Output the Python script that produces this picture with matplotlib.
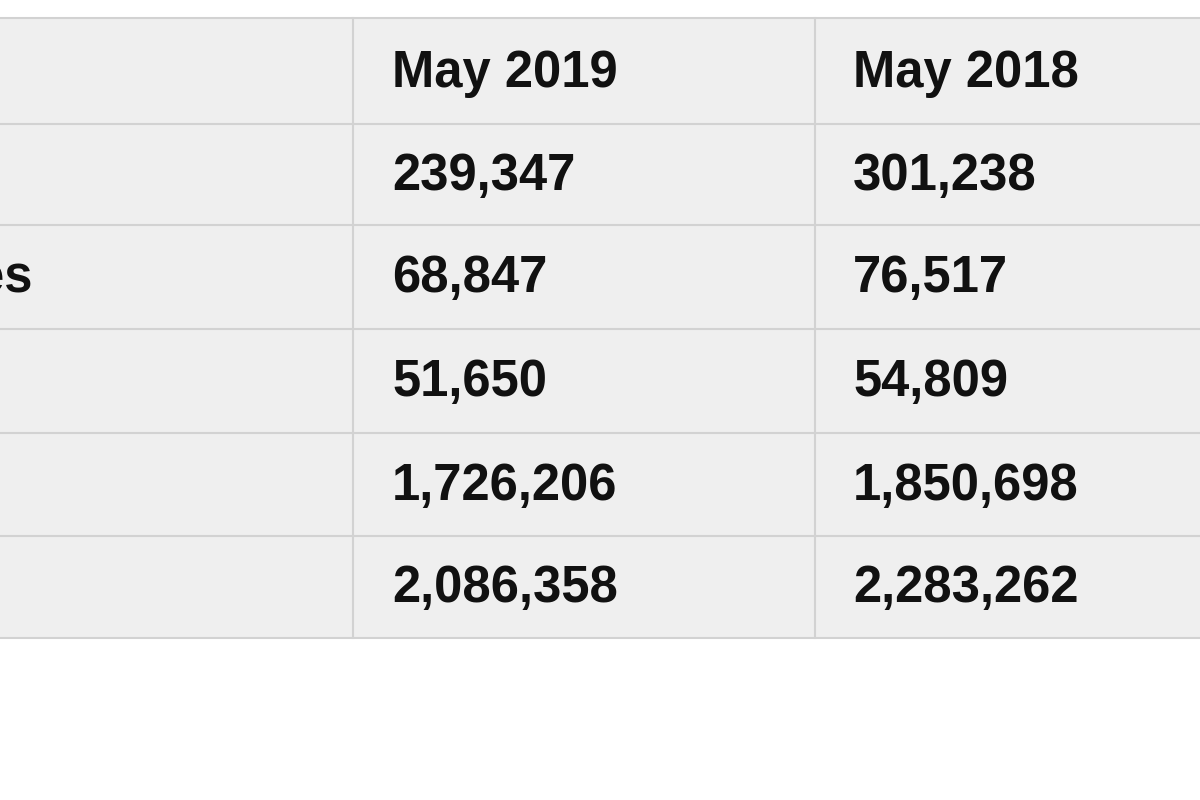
import matplotlib.pyplot as plt
from matplotlib.patches import Rectangle

# table content (the crop cuts off the left label column)
headers = ['', 'May 2019', 'May 2018']
row_labels = ['', 'es', '', '', '']
may_2019 = ['239,347', '68,847', '51,650', '1,726,206', '2,086,358']
may_2018 = ['301,238', '76,517', '54,809', '1,850,698', '2,283,262']

col_edges = [-50, 353, 815, 1260]
row_edges = [18, 124, 225, 329, 433, 536, 638]

fig = plt.figure(figsize=(12, 8), dpi=100)
ax = fig.add_axes([0, 0, 1, 1])
ax.set_xlim(0, 1200)
ax.set_ylim(800, 0)
ax.axis('off')

grid = '#d2d2d2'
ax.add_patch(Rectangle((col_edges[0], row_edges[0]), col_edges[-1] - col_edges[0],
                       row_edges[-1] - row_edges[0], facecolor='#efefef',
                       edgecolor='none'))
for y in row_edges:
    ax.plot([col_edges[0], col_edges[-1]], [y, y], color=grid, lw=1.5)
for x in col_edges[1:-1]:
    ax.plot([x, x], [row_edges[0], row_edges[-1]], color=grid, lw=1.5)

rows = [headers] + [[l, a, b] for l, a, b in zip(row_labels, may_2019, may_2018)]
text_x = [-24, 392, 853]
for i, row in enumerate(rows):
    yc = (row_edges[i] + row_edges[i + 1]) / 2 + 2
    for j, txt in enumerate(row):
        if txt:
            ax.text(text_x[j], yc, txt, fontsize=36.5, fontweight='bold',
                    family='Liberation Sans', va='center', ha='left', color='#111111')

fig.savefig('out.png', dpi=100)
